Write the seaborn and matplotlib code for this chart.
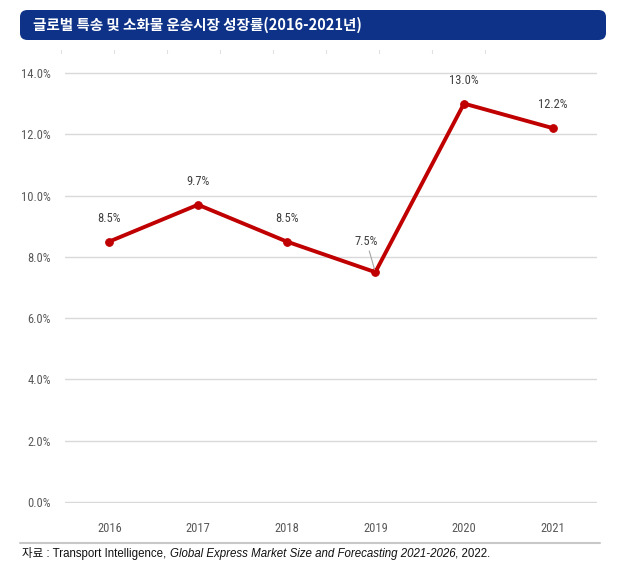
import numpy as np
import pandas as pd
import seaborn as sns
import matplotlib.pyplot as plt
from matplotlib import font_manager
from matplotlib.patches import FancyBboxPatch
from matplotlib.lines import Line2D

years = ['2016', '2017', '2018', '2019', '2020', '2021']
growth = [8.5, 9.7, 8.5, 7.5, 13.0, 12.2]
yticks = [0, 2, 4, 6, 8, 10, 12, 14]

title = '글로벌 특송 및 소화물 운송시장 성장률(2016-2021년)'
src_head = '자료 : Transport Intelligence, '
src_italic = 'Global Express Market Size and Forecasting 2021-2026'
src_tail = ', 2022.'

sns.set_style('white')
names = {f.name for f in font_manager.fontManager.ttflist}
narrow = [n for n in ['Liberation Sans Narrow', 'Roboto Condensed', 'Open Sans Condensed',
                      'DejaVu Sans Condensed'] if n in names]
print(sorted(names))
plt.rcParams['font.family'] = narrow + ['Noto Sans CJK KR', 'DejaVu Sans']

df = pd.DataFrame({'year': years, 'growth': growth})

fig = plt.figure(figsize=(6.32, 5.83), dpi=100)
W, H = 632, 583
ax = fig.add_axes([65 / W, 1 - 503 / H, (597 - 65) / W, (503 - 72) / H])

sns.lineplot(data=df, x='year', y='growth', ax=ax, color='#c00000', lw=2.8,
             marker='o', markersize=5.5, markeredgecolor='#c00000', sort=False)

ax.set_xlim(-0.5, len(years) - 0.5)
ax.set_ylim(-0.03, 14.03)
ax.set_yticks(yticks)
ax.set_yticklabels([f'{v:.1f}%' for v in yticks])
ax.yaxis.grid(True, color='#d9d9d9', lw=1)
ax.set_axisbelow(True)
for s in ax.spines.values():
    s.set_visible(False)
ax.set_xlabel('')
ax.set_ylabel('')
ax.tick_params(axis='both', length=0, labelsize=9, colors='#595959', pad=10)
ax.tick_params(axis='x', pad=14)

# value labels
for i, v in enumerate(growth):
    if years[i] == '2019':
        ax.annotate(f'{v:.1f}%', xy=(i, v), xytext=(i - 0.1, v + 0.8),
                    ha='center', va='bottom', fontsize=9, color='#404040',
                    arrowprops=dict(arrowstyle='-', color='#a6a6a6', lw=0.8,
                                    shrinkA=0, shrinkB=2))
    else:
        ax.annotate(f'{v:.1f}%', xy=(i, v), xytext=(0, 12), textcoords='offset points',
                    ha='center', va='bottom', fontsize=9, color='#404040')

# title banner
banner = FancyBboxPatch((20 / W, 1 - 40 / H), (606 - 20) / W, 30 / H,
                        boxstyle='round,pad=0,rounding_size=0.012',
                        transform=fig.transFigure, facecolor='#0d3288',
                        edgecolor='none')
fig.patches.append(banner)
fig.text(33 / W, 1 - 25 / H, title, color='white', fontsize=10.5, fontweight='bold',
         va='center', ha='left', family=['Noto Sans CJK KR', 'DejaVu Sans'])

# faint ticks above the plot
for xp in np.arange(61, 490, 53):
    fig.add_artist(Line2D([xp / W, xp / W], [1 - 50 / H, 1 - 53 / H],
                          color='#e0e0e0', lw=0.8, transform=fig.transFigure))

# separator line
fig.add_artist(Line2D([20 / W, 600 / W], [1 - 543 / H, 1 - 543 / H],
                      color='#c8c8c8', lw=1.5, transform=fig.transFigure))

# source note with italic part
fig.canvas.draw()
r = fig.canvas.get_renderer()
x0 = 22 / W
yy = 1 - 554 / H
for txt, style in [(src_head, 'normal'), (src_italic, 'italic'), (src_tail, 'normal')]:
    t = fig.text(x0, yy, txt, fontsize=8.3, color='#111111', style=style,
                 va='center', ha='left', family=['Liberation Sans', 'Noto Sans CJK KR'])
    bb = t.get_window_extent(renderer=r)
    x0 = bb.x1 / fig.bbox.width

fig.savefig('out.png', dpi=100)
